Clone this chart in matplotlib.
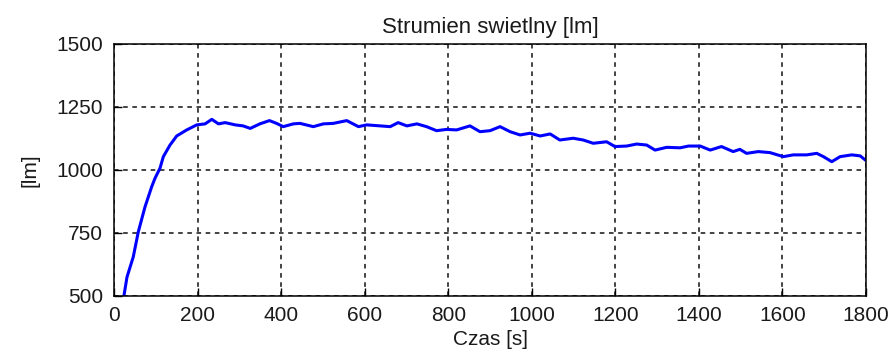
import matplotlib
matplotlib.use("Agg")
import matplotlib.pyplot as plt

# time [s] and luminous flux [lm]
czas = [24, 31, 46, 58, 74, 90, 98, 110, 118, 134, 150, 174, 198, 218, 234,
        250, 266, 290, 309, 326, 349, 372, 389, 405, 429, 445, 477, 501, 525,
        557, 585, 605, 637, 661, 680, 701, 725, 748, 772, 796, 820, 852, 876,
        900, 924, 948, 972, 996, 1020, 1044, 1067, 1099, 1123, 1147, 1179,
        1199, 1227, 1251, 1275, 1295, 1323, 1355, 1375, 1403, 1427, 1454,
        1482, 1498, 1514, 1542, 1570, 1602, 1626, 1658, 1682, 1698, 1718,
        1738, 1766, 1786, 1798]
strumien = [504, 575, 655, 754, 853, 933, 967, 1007, 1053, 1099, 1135, 1159,
            1179, 1183, 1201, 1183, 1188, 1179, 1175, 1165, 1183, 1196, 1185,
            1172, 1183, 1185, 1172, 1183, 1185, 1196, 1172, 1179, 1175, 1172,
            1188, 1175, 1183, 1172, 1156, 1161, 1159, 1175, 1152, 1156, 1172,
            1152, 1139, 1146, 1135, 1143, 1119, 1126, 1119, 1106, 1112, 1093,
            1095, 1103, 1099, 1079, 1090, 1088, 1095, 1095, 1079, 1093, 1073,
            1082, 1066, 1073, 1069, 1053, 1060, 1060, 1066, 1053, 1033, 1053,
            1060, 1056, 1040]

x_ticks = [0, 200, 400, 600, 800, 1000, 1200, 1400, 1600, 1800]
y_ticks = [500, 750, 1000, 1250, 1500]

plt.rcParams["font.family"] = ["Liberation Sans", "DejaVu Sans"]
plt.rcParams["font.size"] = 15

fig = plt.figure(figsize=(8.93, 3.6), dpi=100)
ax = fig.add_axes([0.1277, 0.1778, 0.8421, 0.7])

ax.plot(czas, strumien, color="#0000ff", linewidth=2.2)

ax.set_xlim(0, 1800)
ax.set_ylim(500, 1500)
ax.set_xticks(x_ticks)
ax.set_yticks(y_ticks)
ax.grid(True, color="#111111", linestyle=(0, (3, 3)), linewidth=1.1)
ax.tick_params(direction="in", length=6, width=1, colors="black",
               labelcolor="#1a1a1a", pad=7, top=False, right=False)
ax.tick_params(axis="y", pad=8)
for s in ax.spines.values():
    s.set_linewidth(1.1)
    s.set_color("black")

ax.set_title("Strumien swietlny [lm]", fontsize=16, pad=8, color="#1a1a1a")
ax.set_xlabel("Czas [s]", labelpad=4, color="#1a1a1a")
ax.set_ylabel("[lm]", labelpad=12, color="#1a1a1a")

fig.savefig("out.png", dpi=100)
